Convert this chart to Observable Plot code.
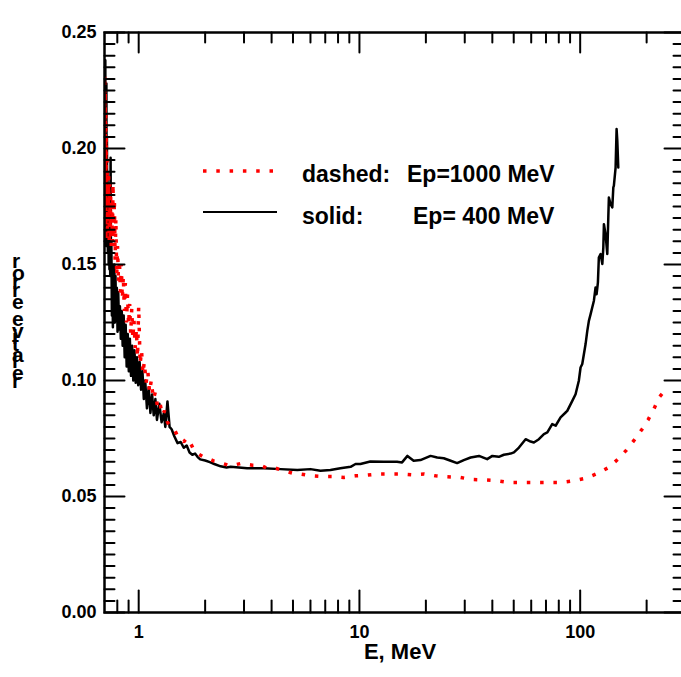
<!DOCTYPE html>
<html><head><meta charset="utf-8">
<script src="https://cdn.jsdelivr.net/npm/d3@7"></script>
<script src="https://cdn.jsdelivr.net/npm/@observablehq/plot@0.6"></script>
<style>body{margin:0;background:#fff;} #chart{position:relative;width:681px;height:677px;}</style>
</head><body><div id="chart"></div>
<script>
// Solid curve (Ep = 400 MeV)
const blackE = [0.700,0.702,0.704,0.706,0.708,0.710,0.712,0.714,0.716,0.718,
0.720,0.722,0.725,0.728,0.731,0.734,0.737,0.740,0.743,0.746,
0.749,0.752,0.756,0.760,0.764,0.768,0.772,0.776,0.780,0.785,
0.790,0.796,0.802,0.808,0.815,0.822,0.830,0.838,0.846,0.855,
0.864,0.873,0.882,0.892,0.902,0.912,0.923,0.934,0.945,0.957,
0.969,0.982,0.995,1.01,1.025,1.04,1.055,1.07,1.09,1.11,
1.13,1.15,1.17,1.19,1.21,1.24,1.27,1.30,1.32,1.35,
1.38,1.41,1.45,1.50,1.55,1.60,1.65,1.70,1.75,1.80,
1.85,1.90,2.0,2.1,2.2,2.35,2.5,
2.61,3.10,3.69,4.39,5.23,6.00,6.66,7.39,8.20,9.12,9.60,10.1,11.2,12.9,14.8,15.6,16.5,17.6,18.9,21.0,22.5,24.1,25.9,27.7,29.7,31.9,34.8,
37.9,40.0,42.8,45.1,48.4,50.1,52.8,56.6,59.6,61.7,65.0,68.5,71.0,74.7,77.4,81.5,85.9,87.4,92.1,95.3,98.6,100.4,102.2,105.8,107.7,109.5,111.5,113.4,115.4,117.4,118.7,120.3,121.5,123.7,126.0,127.3,128.1,130.3,132.7,134.1,134.9,137.3,139.8,141.3,142.1,144.7,146.2,147.3,148.8];
const blackR = [0.160,0.235,0.175,0.238,0.165,0.215,0.158,0.228,0.170,0.205,
0.160,0.190,0.155,0.180,0.150,0.172,0.148,0.165,0.145,0.196,
0.150,0.160,0.128,0.150,0.123,0.140,0.128,0.150,0.125,0.145,
0.128,0.140,0.121,0.138,0.122,0.132,0.118,0.130,0.115,0.128,
0.110,0.124,0.106,0.120,0.104,0.118,0.102,0.115,0.100,0.113,
0.099,0.110,0.098,0.108,0.096,0.104,0.092,0.100,0.088,0.097,
0.086,0.094,0.085,0.092,0.083,0.090,0.082,0.086,0.080,0.091,
0.080,0.079,0.076,0.073,0.0735,0.071,0.072,0.069,0.068,0.0685,
0.067,0.066,0.0655,0.0648,0.064,0.063,0.0625,
0.0628,0.0622,0.0622,0.0618,0.0614,0.0618,0.0611,0.0614,0.0622,0.0628,0.0640,0.0640,0.0651,0.0650,0.0650,0.0647,0.0675,0.0654,0.0657,0.0675,0.0668,0.0665,0.0654,0.0644,0.0657,0.0668,0.0675,
0.0661,0.0675,0.0671,0.0680,0.0685,0.0690,0.0711,0.0747,0.0737,0.0733,0.0747,0.0769,0.0776,0.0812,0.0805,0.0841,0.0862,0.0869,0.0912,0.0941,0.0999,0.1056,0.1071,0.1157,0.1214,0.1257,0.1286,0.1315,0.1344,0.1401,0.1372,0.1422,0.1530,0.1545,0.1502,0.1573,0.1674,0.1631,0.1545,0.1703,0.1789,0.1760,0.1746,0.1832,0.1839,0.1918,0.2084,0.2033,0.1918];

// Dotted curve (Ep = 1000 MeV)
const redE = [0.700,0.701,0.703,0.705,0.707,0.709,0.711,0.713,0.716,0.719,
0.722,0.725,0.728,0.731,0.735,0.739,0.743,0.747,0.751,0.755,
0.760,0.765,0.770,0.776,0.782,0.788,0.795,0.802,0.810,0.818,
0.826,0.834,0.843,0.852,0.861,0.870,0.880,0.890,0.900,0.910,
0.920,0.930,0.941,0.952,0.964,0.976,0.988,1.000,1.015,1.030,
1.045,1.060,1.080,1.100,1.120,1.140,1.165,1.190,1.220,1.250,
1.280,1.310,1.350,1.400,1.450,1.500,1.550,1.600,1.650,1.700,
1.780,1.850,1.950,2.050,2.200,2.400,
2.61,2.89,3.27,3.56,3.82,4.17,4.54,4.96,5.41,6.11,6.78,7.66,8.50,9.60,10.8,12.2,13.8,15.6,17.3,19.6,22.1,25.0,28.7,32.4,37.3,
42.1,48.3,54.6,62.9,72,81,93.6,107,120,134.5,148,162,176,190,203,216.5,228,236];
const redR = [0.170,0.232,0.180,0.225,0.165,0.215,0.160,0.205,0.175,0.195,
0.165,0.190,0.168,0.188,0.160,0.185,0.162,0.180,0.158,0.176,
0.160,0.185,0.158,0.178,0.152,0.170,0.145,0.158,0.142,0.152,
0.138,0.150,0.135,0.145,0.130,0.142,0.125,0.137,0.124,0.133,
0.120,0.131,0.118,0.126,0.114,0.122,0.110,0.132,0.107,0.113,
0.103,0.108,0.099,0.104,0.095,0.100,0.092,0.095,0.088,0.090,
0.085,0.087,0.082,0.080,0.079,0.076,0.075,0.0735,0.0752,0.0738,
0.070,0.0685,0.0672,0.0665,0.0652,0.0642,
0.0632,0.0642,0.0635,0.0635,0.0622,0.0622,0.0611,0.0601,0.0597,0.0589,0.0586,0.0586,0.0582,0.0589,0.0592,0.0597,0.0597,0.0597,0.0594,0.0597,0.0589,0.0585,0.0582,0.0573,0.0571,
0.0568,0.0560,0.0560,0.0560,0.0560,0.0560,0.0568,0.0580,0.0600,0.0625,0.0660,0.0700,0.0744,0.0788,0.0830,0.0880,0.0928,0.0945];

const xLabelTicks = [1, 10, 100];
const xMinorTicks = [0.8,0.9,2,3,4,5,6,7,8,9,20,30,40,50,60,70,80,90,200];
const yMajorTicks = [0, 0.05, 0.10, 0.15, 0.20, 0.25];
const yMinorTicks = d3.range(1, 50).filter(i => i % 10 !== 0).map(i => i * 0.005);

const legendRed = "dashed:";
const legendRedVal = "Ep=1000 MeV";
const legendBlack = "solid:";
const legendBlackVal = "Ep= 400 MeV";
const xLabel = "E, MeV";
const yLabel = "relative error";

const black = blackE.map((e, i) => ({e, r: blackR[i]}));
const red = redE.map((e, i) => ({e, r: redR[i]}));

const tickShape = {draw(ctx, l) { ctx.moveTo(0, 0); ctx.lineTo(0, -l); }};
const tk = (data, opts) => Plot.vector(data, {anchor: "start", shape: tickShape, stroke: "black", strokeWidth: 2, ...opts});

const font = "'Liberation Sans', Arial, Helvetica, sans-serif";

const plot = Plot.plot({
  width: 681, height: 677,
  marginLeft: 104, marginRight: -4, marginTop: 32, marginBottom: 65,
  style: {fontFamily: font, background: "white", overflow: "hidden"},
  x: {type: "log", domain: [0.7, 300]},
  y: {domain: [0, 0.25]},
  marks: [
    Plot.line(black, {x: "e", y: "r", stroke: "black", strokeWidth: 2.5, clip: true}),
    Plot.line(red, {x: "e", y: "r", stroke: "#ff0000", strokeWidth: 3.5, strokeLinecap: "butt", strokeLinejoin: "miter", strokeDasharray: "3.5,9.8", clip: true}),
    Plot.frame({stroke: "black", strokeWidth: 2.5}),
    tk(xLabelTicks, {x: d => d, frameAnchor: "bottom", rotate: 0, length: 22}),
    tk(xMinorTicks, {x: d => d, frameAnchor: "bottom", rotate: 0, length: 12}),
    tk(xLabelTicks, {x: d => d, frameAnchor: "top", rotate: 180, length: 20}),
    tk(xMinorTicks, {x: d => d, frameAnchor: "top", rotate: 180, length: 10}),
    tk(yMajorTicks, {y: d => d, frameAnchor: "left", rotate: 90, length: 20}),
    tk(yMinorTicks, {y: d => d, frameAnchor: "left", rotate: 90, length: 10}),
    tk(yMajorTicks, {y: d => d, frameAnchor: "right", rotate: -90, length: 21}),
    tk(yMinorTicks, {y: d => d, frameAnchor: "right", rotate: -90, length: 12}),
    Plot.axisX({ticks: xLabelTicks, tickFormat: d => String(d), tickSize: 0, tickPadding: 13, fontSize: 18, fontWeight: "bold", label: null}),
    Plot.axisY({ticks: yMajorTicks, tickFormat: d3.format(".2f"), tickSize: 0, tickPadding: 8, fontSize: 18, fontWeight: "bold", label: null}),
    Plot.text([xLabel], {text: d => d, frameAnchor: "bottom", dx: 5, dy: 46, fontSize: 22, fontWeight: "bold", fill: "black"})
  ]
});

const svg = d3.select(plot);
// legend
const lg = svg.append("g").attr("font-family", font).attr("font-weight", "bold").attr("font-size", 23)
  .attr("fill", "black").attr("text-anchor", "start");
lg.append("line").attr("x1", 203).attr("x2", 273).attr("y1", 171).attr("y2", 171)
  .attr("stroke", "#ff0000").attr("stroke-width", 3.5).attr("stroke-dasharray", "3.5,9.8");
lg.append("line").attr("x1", 203).attr("x2", 277).attr("y1", 212).attr("y2", 212)
  .attr("stroke", "black").attr("stroke-width", 2);
lg.append("text").attr("x", 302).attr("y", 182).text(legendRed);
lg.append("text").attr("x", 407).attr("y", 182).text(legendRedVal);
lg.append("text").attr("x", 302).attr("y", 224).text(legendBlack);
lg.append("text").attr("x", 413).attr("y", 224).text(legendBlackVal);
// y label (glyphs stacked upright)
svg.append("text").attr("transform", "translate(12,388) rotate(-90)").attr("rotate", "90")
  .attr("text-anchor", "start")
  .attr("font-family", font).attr("font-weight", "bold").attr("font-size", 21).attr("fill", "black")
  .text(yLabel);

document.getElementById("chart").appendChild(plot);
</script>
</body></html>
